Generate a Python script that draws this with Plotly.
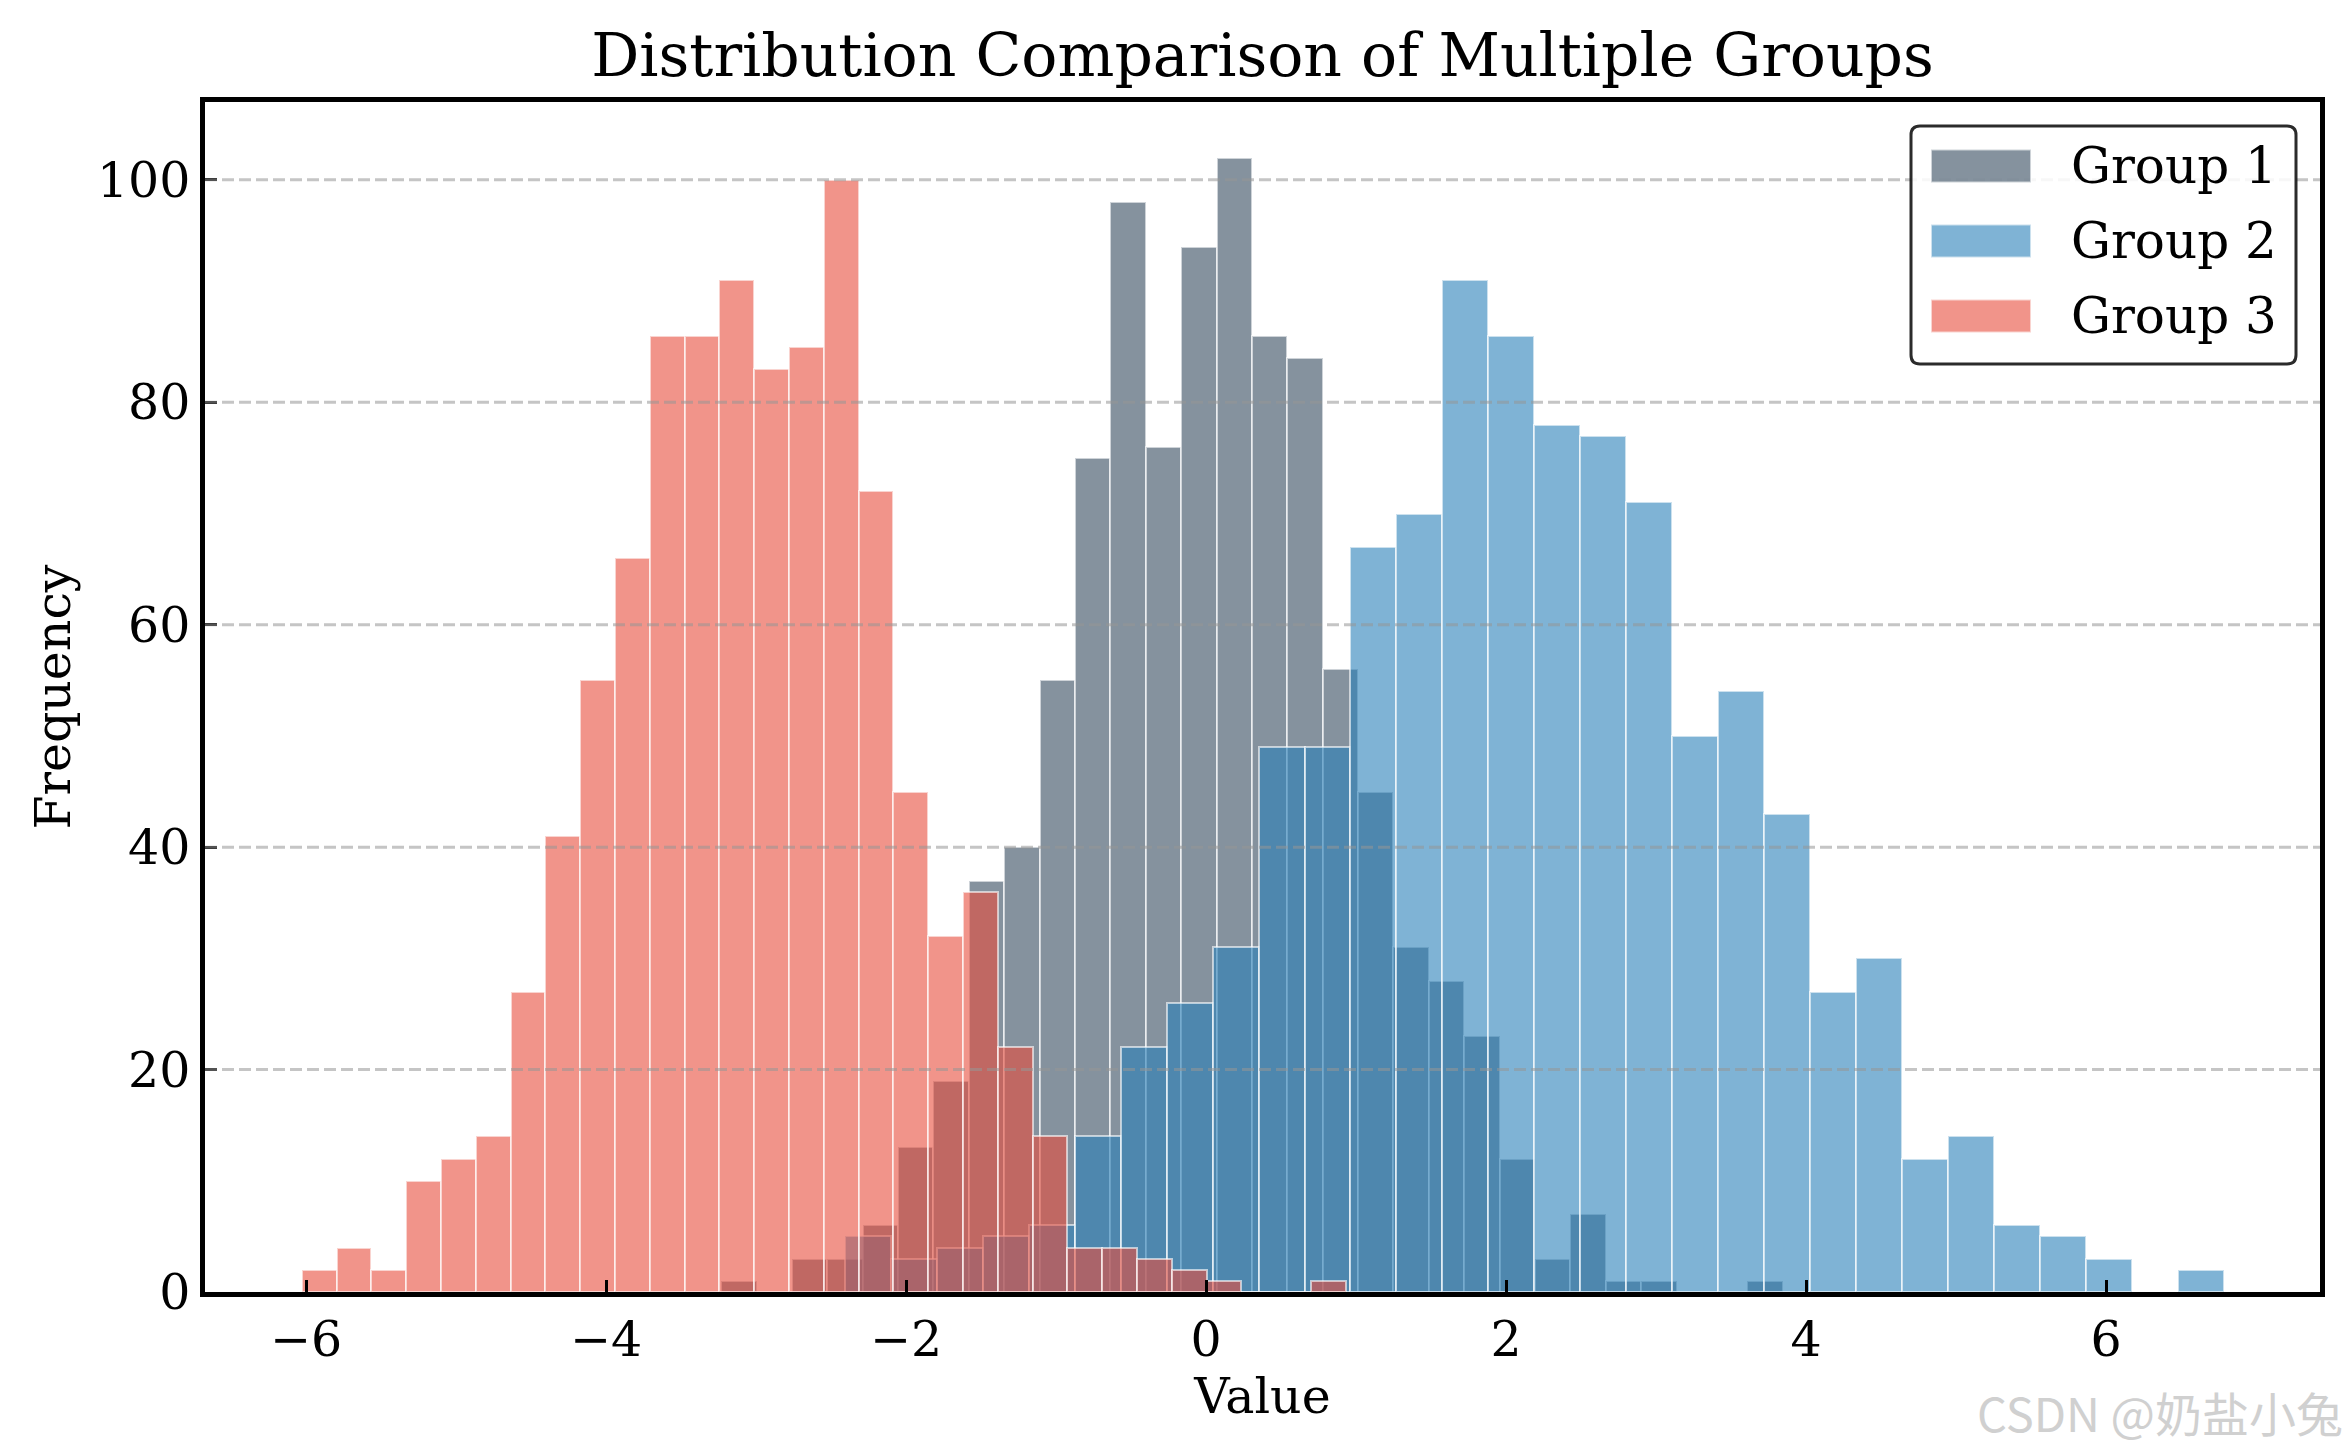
import plotly.graph_objects as go

# ---------------- data ----------------
group_names = ["Group 1", "Group 2", "Group 3"]

g1_bin_start = -3.233
g1_bin_width = 0.2359
g1_counts = [1, 0, 3, 3, 6, 13, 19, 37, 40, 55, 75, 98, 76, 94, 102,
             86, 84, 56, 45, 31, 28, 23, 12, 3, 7, 1, 1, 0, 0, 1]

g2_bin_start = -2.410
g2_bin_width = 0.3066
g2_counts = [5, 3, 4, 5, 6, 14, 22, 26, 31, 49, 49, 67, 70, 91, 86,
             78, 77, 71, 50, 54, 43, 27, 30, 12, 14, 6, 5, 3, 0, 2]

g3_bin_start = -6.029
g3_bin_width = 0.232
g3_counts = [2, 4, 2, 10, 12, 14, 27, 41, 55, 66, 86, 86, 91, 83, 85,
             100, 72, 45, 32, 36, 22, 14, 4, 4, 3, 2, 1, 0, 0, 1]

x_tick_values = [-6, -4, -2, 0, 2, 4, 6]
x_tick_labels = ["−6", "−4", "−2", "0", "2", "4", "6"]
y_tick_values = [0, 20, 40, 60, 80, 100]
y_tick_labels = ["0", "20", "40", "60", "80", "100"]

# ---------------- styling ----------------
colors = ["#34495e", "#2980b9", "#e74c3c"]
ALPHA = 0.6
FONT = "DejaVu Serif"
W, H = 2352, 1452
L, R, T, B = 205, 32, 102, 160
PW, PH = W - L - R, H - T - B


def rgba(hex_color, a):
    h = hex_color.lstrip("#")
    r, g, b = int(h[0:2], 16), int(h[2:4], 16), int(h[4:6], 16)
    return f"rgba({r},{g},{b},{a})"


def px_x(px):
    return (px - L) / PW


def px_y(py):
    return (H - B - py) / PH


groups = [
    (g1_bin_start, g1_bin_width, g1_counts),
    (g2_bin_start, g2_bin_width, g2_counts),
    (g3_bin_start, g3_bin_width, g3_counts),
]

fig = go.Figure()
for name, color, (start, width, counts) in zip(group_names, colors, groups):
    centers = [start + (i + 0.5) * width for i in range(len(counts))]
    fig.add_trace(go.Bar(
        x=centers, y=counts, width=width, name=name,
        marker=dict(color=rgba(color, ALPHA),
                    line=dict(color="rgba(255,255,255,0.6)", width=2)),
        showlegend=False,
    ))

axis_common = dict(
    showline=True, linecolor="black", linewidth=4.5, mirror=True,
    ticks="inside", ticklen=12, tickwidth=3, tickcolor="black",
    showgrid=False, zeroline=False,
    tickfont=dict(family=FONT, size=49, color="black"),
)

fig.update_layout(
    width=W, height=H,
    margin=dict(l=L, r=R, t=T, b=B),
    paper_bgcolor="white", plot_bgcolor="white",
    barmode="overlay", bargap=0,
    font=dict(family=FONT, size=49, color="black"),
    title=dict(text="Distribution Comparison of Multiple Groups",
               x=0.5, xref="paper", xanchor="center",
               y=1 - 55 / H, yref="container", yanchor="middle",
               font=dict(family=FONT, size=60, color="black")),
    xaxis=dict(range=[-6.674, 7.426], tickvals=x_tick_values,
               ticktext=x_tick_labels,
               title=dict(text="Value", standoff=13,
                          font=dict(family=FONT, size=49)),
               **axis_common),
    yaxis=dict(range=[0, 107.0], tickvals=y_tick_values,
               ticktext=y_tick_labels,
               title=dict(text="Frequency", standoff=12,
                          font=dict(family=FONT, size=49)),
               **axis_common),
    showlegend=False,
)

shapes = []
# dashed horizontal grid drawn above bars (as in the reference)
for v in y_tick_values[1:]:
    shapes.append(dict(type="line", xref="paper", x0=0, x1=1, yref="y",
                       y0=v, y1=v, layer="above",
                       line=dict(color="rgba(150,150,150,0.55)", width=3,
                                 dash="12px,5px")))

# legend box (rounded)
bx0, bx1, by0, by1, rad = 1911, 2296, 126, 364, 9
rx, ry = rad / PW, rad / PH
X0, X1, Y0, Y1 = px_x(bx0), px_x(bx1), px_y(by1), px_y(by0)
path = (f"M{X0 + rx},{Y0} L{X1 - rx},{Y0} Q{X1},{Y0} {X1},{Y0 + ry} "
        f"L{X1},{Y1 - ry} Q{X1},{Y1} {X1 - rx},{Y1} "
        f"L{X0 + rx},{Y1} Q{X0},{Y1} {X0},{Y1 - ry} "
        f"L{X0},{Y0 + ry} Q{X0},{Y0} {X0 + rx},{Y0} Z")
shapes.append(dict(type="path", xref="paper", yref="paper", path=path,
                   layer="above", fillcolor="rgba(255,255,255,0.85)",
                   line=dict(color="rgba(20,20,20,0.9)", width=3)))

annotations = []
row_centers = [166, 241, 316]
for name, color, cy in zip(group_names, colors, row_centers):
    shapes.append(dict(type="rect", xref="paper", yref="paper",
                       x0=px_x(1931), x1=px_x(2031),
                       y0=px_y(cy + 16.5), y1=px_y(cy - 16.5),
                       layer="above", fillcolor=rgba(color, ALPHA),
                       line=dict(color="rgba(255,255,255,0.6)", width=2)))
    annotations.append(dict(text=name, xref="paper", yref="paper",
                            x=px_x(2069), y=px_y(cy), xanchor="left",
                            yanchor="middle", showarrow=False,
                            font=dict(family=FONT, size=50, color="black")))

# watermark
annotations.append(dict(text="CSDN @奶盐小兔", xref="paper", yref="paper",
                        x=px_x(2345), y=px_y(1411), xanchor="right",
                        yanchor="middle", showarrow=False,
                        font=dict(family="Noto Sans CJK SC", size=47,
                                  color="#d0d0d0")))

fig.update_layout(shapes=shapes, annotations=annotations)

fig.write_html("out.html")
